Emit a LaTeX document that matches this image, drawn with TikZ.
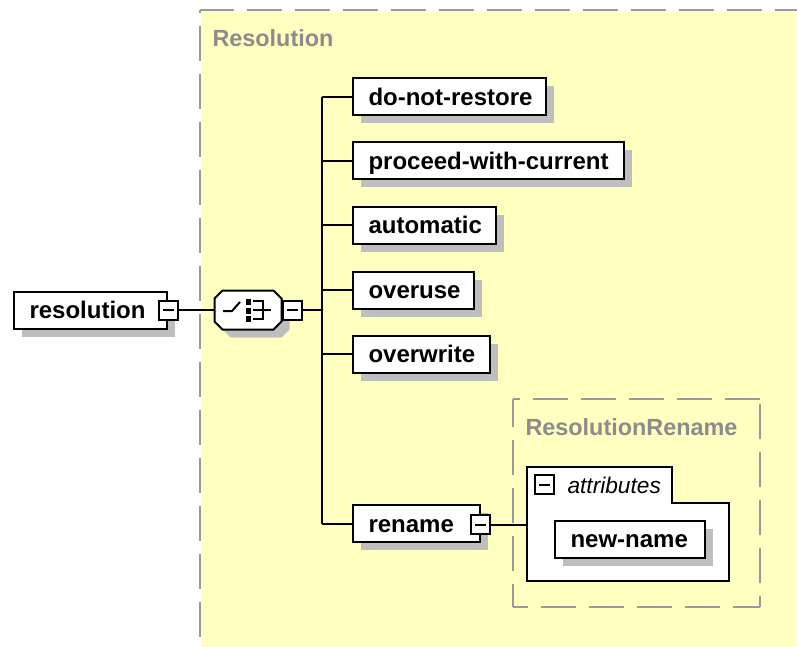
\documentclass[tikz,border=0pt]{standalone}
\usepackage{fontspec}
\setmainfont{Liberation Sans}
\usetikzlibrary{positioning}
\usetikzlibrary{shadows}
\definecolor{panelyellow}{HTML}{FFFFC0}
\definecolor{dashgray}{HTML}{999999}
\definecolor{titlegray}{HTML}{8C8C8C}
\definecolor{shadowgray}{HTML}{BEBEBE}
\tikzstyle{every path}=[line width=2pt,line join=miter]
\tikzstyle{boxshadow}=[drop shadow={shadow xshift=8pt,shadow yshift=-8pt,fill=shadowgray,opacity=1}]
\tikzstyle{elbox}=[draw=black,fill=white,boxshadow,anchor=west,minimum height=37pt,inner xsep=16pt,inner ysep=0pt,align=left,text height=17pt,text depth=0pt,font={\bfseries\fontsize{24}{26}\selectfont\hyphenchar\font=-1}]
\tikzstyle{expander}=[draw=black,fill=white,minimum size=19pt,inner sep=0pt,path picture={\draw ([xshift=4pt]path picture bounding box.west) -- ([xshift=-4pt]path picture bounding box.east);}]
\tikzstyle{paneltitle}=[anchor=west,inner sep=0pt,text=titlegray,text height=17pt,text depth=0pt,font={\bfseries\fontsize{23.4}{26}\selectfont}]
\tikzstyle{paneledge}=[draw=dashgray,line width=2pt]
\begin{document}
\begin{tikzpicture}[x=1pt,y=-1pt]
\useasboundingbox (0,0) rectangle (797,647);

% yellow type panel
\node[fill=panelyellow,inner sep=0pt,minimum width=597pt,minimum height=637pt,anchor=north west] (respanel) at (200,10) {};
\draw[paneledge,dash pattern=on 35pt off 13pt,dash phase=1pt] (respanel.north west) -- (respanel.north east);
\draw[paneledge,dash pattern=on 35pt off 13pt,dash phase=32pt] (respanel.north west) -- (respanel.south west);
\node[paneltitle] (restitle) at (211.5,38) {Resolution};

% inner type panel
\node[inner sep=0pt,minimum width=245pt,minimum height=206pt,anchor=north west] (renpanel) at (513,398.5) {};
\draw[paneledge,dash pattern=on 35pt off 13pt,dash phase=28pt] (renpanel.north west) -- (renpanel.north east);
\draw[paneledge,dash pattern=on 35pt off 13pt,dash phase=43pt] (renpanel.north east) -- (renpanel.south east);
\draw[paneledge,dash pattern=on 35pt off 13pt,dash phase=8pt] (renpanel.south east) -- (renpanel.south west);
\draw[paneledge,dash pattern=on 35pt off 13pt,dash phase=7pt] (renpanel.north west) -- (renpanel.south west);
\node[paneltitle] (rentitle) at (524.5,427) {ResolutionRename};

% root and choice
\node[elbox,text width=121pt] (resolution) at (12.5,310) {resolution};
\node[expander] (resexp) at (168,310) {};
\node[inner sep=0pt,minimum width=67pt,minimum height=39pt] (choice) at (248,310) {};
\path[draw=black,fill=white,boxshadow] (222.5,290.5) -- (273.5,290.5) -- (281.5,298.5) -- (281.5,321.5) -- (273.5,329.5) -- (222.5,329.5) -- (214.5,321.5) -- (214.5,298.5) -- cycle;
\node[expander] (choiceexp) at (292.5,310) {};
\draw (resexp.east) -- (choice.west);
\draw (223,311) -- (232,311) -- (240,302);
\foreach \y in {302,310.5,318.5}
  \fill (246,\y-3) rectangle (251,\y+3);
\draw (253,301) -- (263,301) -- (263,319) -- (253,319);
\draw (253,310) -- (271,310);

% children
\coordinate (bus) at (322,310);
\node[elbox,text width=161pt] (donotrestore) at (351.5,97) {do-not-restore};
\node[elbox,text width=239pt] (proceed) at (351.5,161) {proceed-with-current};
\node[elbox,text width=111pt] (automatic) at (351.5,225) {automatic};
\node[elbox,text width=89pt] (overuse) at (351.5,290) {overuse};
\node[elbox,text width=105pt] (overwrite) at (351.5,354) {overwrite};
\node[elbox,text width=95pt] (rename) at (351.5,523.5) {rename};
\node[expander] (renameexp) at (480.5,524.5) {};
\draw (choiceexp.east) -- (bus);
\draw (donotrestore.west -| bus) -- (rename.west -| bus);
\foreach \child in {donotrestore,proceed,automatic,overuse,overwrite,rename}
  \draw (\child.west -| bus) -- (\child.west);

% attribute group
\coordinate (attrleft) at (526.5,524.5);
\draw[fill=white] (526.5,467) -- (672,467) -- (672,503) -- (729,503) -- (729,581) -- (526.5,581) -- cycle;
\draw (renameexp.east) -- (attrleft);
\node[expander] (attrexp) at (544.5,484.5) {};
\node[anchor=west,inner sep=0pt,text height=16pt,text depth=0pt,font={\itshape\fontsize{22.7}{26}\selectfont}] (attrtitle) at (566.5,485.5) {attributes};
\node[elbox,text width=118pt] (newname) at (553.5,539) {new-name};
\end{tikzpicture}
\end{document}
